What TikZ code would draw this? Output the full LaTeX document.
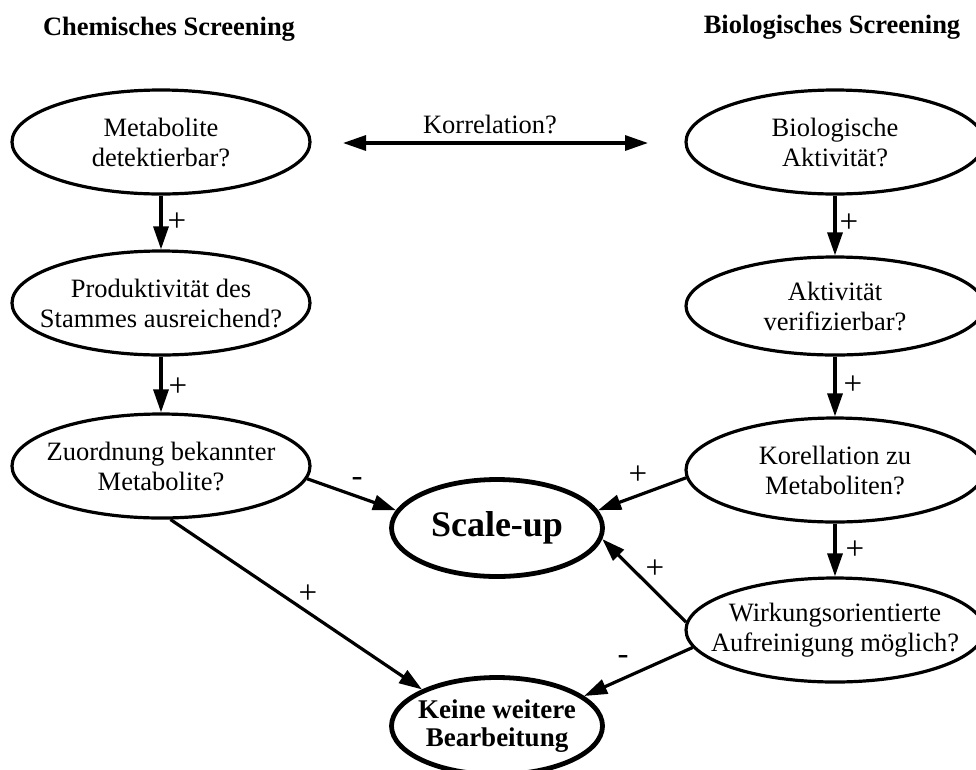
\documentclass[tikz,border=0pt]{standalone}
\usepackage{fontspec}
\setmainfont{Liberation Serif}
\usetikzlibrary{shapes.geometric,arrows.meta}
\begin{document}
\begin{tikzpicture}[x=1pt,y=-1pt,
  every node/.style={font=\fontsize{26.5}{30}\selectfont},
  bubble/.style={ellipse, draw, line width=3.2pt, inner sep=-60pt, align=center,
    minimum width=298pt, minimum height=104pt},
  goal/.style={ellipse, draw, line width=4.8pt, inner sep=-60pt, align=center,
    minimum width=211pt, minimum height=97pt, font=\fontsize{27}{28}\selectfont\bfseries},
  tip/.tip={Triangle[length=23pt,width=15pt]},
  flow/.style={line width=3.2pt, -tip},
  both/.style={line width=3.2pt, tip-tip},
  lbl/.style={inner sep=0pt, font=\fontsize{33}{36}\selectfont},
  head/.style={font=\fontsize{26.5}{30}\selectfont\bfseries, anchor=base, inner sep=0pt}
]
\useasboundingbox (0,0) rectangle (976,769);

% headers
\node[head] (hc) at (169,35) {Chemisches Screening};
\node[head] (hb) at (832,33) {Biologisches Screening};

% left column
\node[bubble] (met) at (161,142) {Metabolite\\detektierbar?};
\node[bubble] (pro) at (161,303) {Produktivität des\\Stammes ausreichend?};
\node[bubble] (zu)  at (161,466) {Zuordnung bekannter\\Metabolite?};

% right column
\node[bubble] (bio) at (835,142) {Biologische\\Aktivität?};
\node[bubble, minimum height=98pt] (akt) at (835,306) {Aktivität\\verifizierbar?};
\node[bubble] (kor) at (835,470) {Korellation zu\\Metaboliten?};
\node[bubble] (wir) at (835,630) {Wirkungsorientierte\\Aufreinigung möglich?};

% goals
\node[goal, font=\fontsize{36}{40}\selectfont\bfseries] (sc) at (497,528) {Scale-up};
\node[goal] (ke) at (497,726) {Keine weitere\\Bearbeitung};

% correlation arrow
\coordinate (kl) at (343,143);
\coordinate (kr) at (648,143);
\draw[both] (kl) -- (kr);
\node[anchor=base, inner sep=0pt] (kt) at (490,133) {Korrelation?};

% vertical flows
\draw[flow] (met) -- (pro);
\draw[flow] (pro) -- (zu);
\draw[flow] (bio) -- (akt);
\draw[flow] (akt) -- (kor);
\draw[flow] (kor) -- (wir);

% diagonal flows
\draw[flow] (zu.-5) -- (sc.170);
\draw[flow] (zu.-80) -- (ke.154);
\draw[flow] (kor.183) -- (sc.10);
\draw[flow] (wir.177) -- (sc.-6);
\draw[flow] (wir.187) -- (ke.19);

% edge labels
\node[lbl] (l1) at (177,222) {+};
\node[lbl] (l2) at (178,387) {+};
\node[lbl] (l3) at (849,223) {+};
\node[lbl] (l4) at (853,385) {+};
\node[lbl] (l5) at (855,550) {+};
\node[lbl] (l6) at (357,482) {-};
\node[lbl] (l7) at (308,594) {+};
\node[lbl] (l8) at (638,475) {+};
\node[lbl] (l9) at (655,569) {+};
\node[lbl] (l10) at (623,660) {-};
\end{tikzpicture}
\end{document}
